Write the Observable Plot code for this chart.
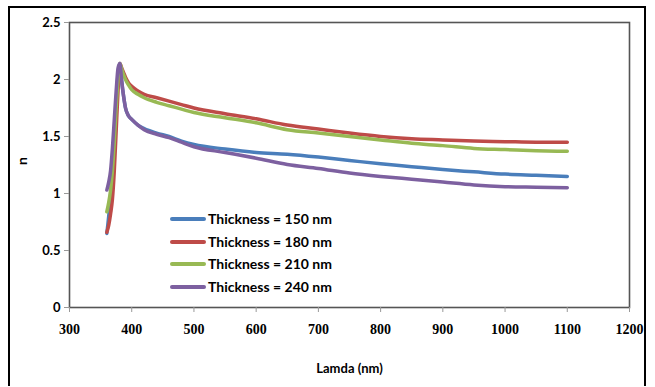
<!DOCTYPE html>
<html>
<head>
<meta charset="utf-8">
<script src="https://cdn.jsdelivr.net/npm/d3@7"></script>
<script src="https://cdn.jsdelivr.net/npm/@observablehq/plot@0.6"></script>
<style>
  html, body { margin: 0; padding: 0; background: #fff; }
  #wrap { position: relative; width: 655px; height: 387px; overflow: hidden; }
  #border { position: absolute; left: 8px; top: 6px; width: 638px; height: 380px; border: 2px solid #000; border-bottom: none; box-sizing: border-box; pointer-events: none; }
  #legend { position: absolute; left: 170px; top: 208px; font-family: Lato, "Open Sans", sans-serif; font-weight: bold; font-size: 14px; line-height: 22.5px; color: #000; }
  #legend .row { display: flex; align-items: center; white-space: nowrap; }
  #legend .sw { width: 36px; height: 4px; border-radius: 2px; margin-right: 2px; }
</style>
</head>
<body>
<div id="wrap">
  <div id="chart"></div>
  <div id="legend"></div>
  <div id="border"></div>
</div>
<script>
const lambda = [360, 363, 366, 369, 372, 375, 378, 381, 384, 387, 390, 395, 400, 410, 420, 440, 460, 480, 500, 550, 600, 650, 700, 750, 800, 850, 900, 950, 1000, 1050, 1100];
const n150 = [0.65, 0.80, 0.98, 1.20, 1.48, 1.78, 2.05, 2.14, 1.98, 1.85, 1.75, 1.68, 1.65, 1.60, 1.57, 1.53, 1.50, 1.46, 1.43, 1.39, 1.36, 1.345, 1.32, 1.29, 1.26, 1.235, 1.21, 1.19, 1.17, 1.16, 1.15];
const n180 = [0.66, 0.72, 0.82, 0.95, 1.20, 1.55, 1.90, 2.14, 2.10, 2.06, 2.02, 1.97, 1.94, 1.90, 1.87, 1.84, 1.81, 1.78, 1.75, 1.70, 1.655, 1.60, 1.565, 1.53, 1.50, 1.48, 1.47, 1.46, 1.455, 1.45, 1.45];
const n210 = [0.84, 0.92, 1.03, 1.20, 1.45, 1.75, 2.00, 2.14, 2.09, 2.04, 2.00, 1.95, 1.91, 1.87, 1.84, 1.80, 1.77, 1.74, 1.71, 1.665, 1.62, 1.56, 1.53, 1.50, 1.47, 1.44, 1.42, 1.395, 1.385, 1.375, 1.37];
const n240 = [1.03, 1.10, 1.20, 1.40, 1.65, 1.90, 2.10, 2.14, 1.98, 1.85, 1.75, 1.68, 1.65, 1.60, 1.56, 1.52, 1.49, 1.45, 1.41, 1.36, 1.31, 1.255, 1.22, 1.18, 1.15, 1.125, 1.10, 1.075, 1.06, 1.055, 1.05];
const seriesNames = ["Thickness = 150 nm", "Thickness = 180 nm", "Thickness = 210 nm", "Thickness = 240 nm"];
const seriesColors = ["#4a7ebb", "#be4b48", "#98b954", "#7d60a0"];
const xTicks = [300, 400, 500, 600, 700, 800, 900, 1000, 1100, 1200];
const yTicks = [0, 0.5, 1, 1.5, 2, 2.5];

const allSeries = [n150, n180, n210, n240];
const data = [];
allSeries.forEach((vals, i) => {
  vals.forEach((v, j) => data.push({ lambda: lambda[j], n: v, series: seriesNames[i] }));
});

const chart = Plot.plot({
  width: 655,
  height: 387,
  marginLeft: 69,
  marginRight: 26,
  marginTop: 22,
  marginBottom: 80,
  x: { domain: [300, 1200], ticks: xTicks, label: null },
  y: { domain: [0, 2.5], ticks: yTicks, label: null },
  color: { domain: seriesNames, range: seriesColors },
  marks: [
    Plot.line(data, { x: "lambda", y: "n", z: "series", stroke: "series", strokeWidth: 3.5, curve: "monotone-x" }),
    Plot.frame({ stroke: "#555", strokeWidth: 1.6 }),
    Plot.axisX({ ticks: xTicks, tickSize: 5, tickPadding: 12, stroke: "#999", fontFamily: "Liberation Serif, serif", fontWeight: "bold", fontSize: 14, fill: "#000", label: null, tickFormat: d => String(d) }),
    Plot.axisY({ ticks: yTicks, tickSize: 5, tickPadding: 4, stroke: "#999", fontFamily: "Lato, sans-serif", fontWeight: "bold", fontSize: 13, fill: "#000", label: null, tickFormat: d => String(d) }),
    Plot.text(["Lamda (nm)"], { frameAnchor: "bottom", dy: 65, text: d => d, fontFamily: "Lato, sans-serif", fontWeight: "bold", fontSize: 13, fill: "#000" }),
    Plot.text(["n"], { frameAnchor: "left", dx: -47, rotate: -90, text: d => d, fontFamily: "Lato, sans-serif", fontWeight: "bold", fontSize: 14, fill: "#000" })
  ]
});
document.getElementById("chart").appendChild(chart);

const legend = document.getElementById("legend");
seriesNames.forEach((name, i) => {
  const row = document.createElement("div");
  row.className = "row";
  const sw = document.createElement("div");
  sw.className = "sw";
  sw.style.background = seriesColors[i];
  const t = document.createElement("span");
  t.textContent = name;
  row.appendChild(sw);
  row.appendChild(t);
  legend.appendChild(row);
});
</script>
</body>
</html>
